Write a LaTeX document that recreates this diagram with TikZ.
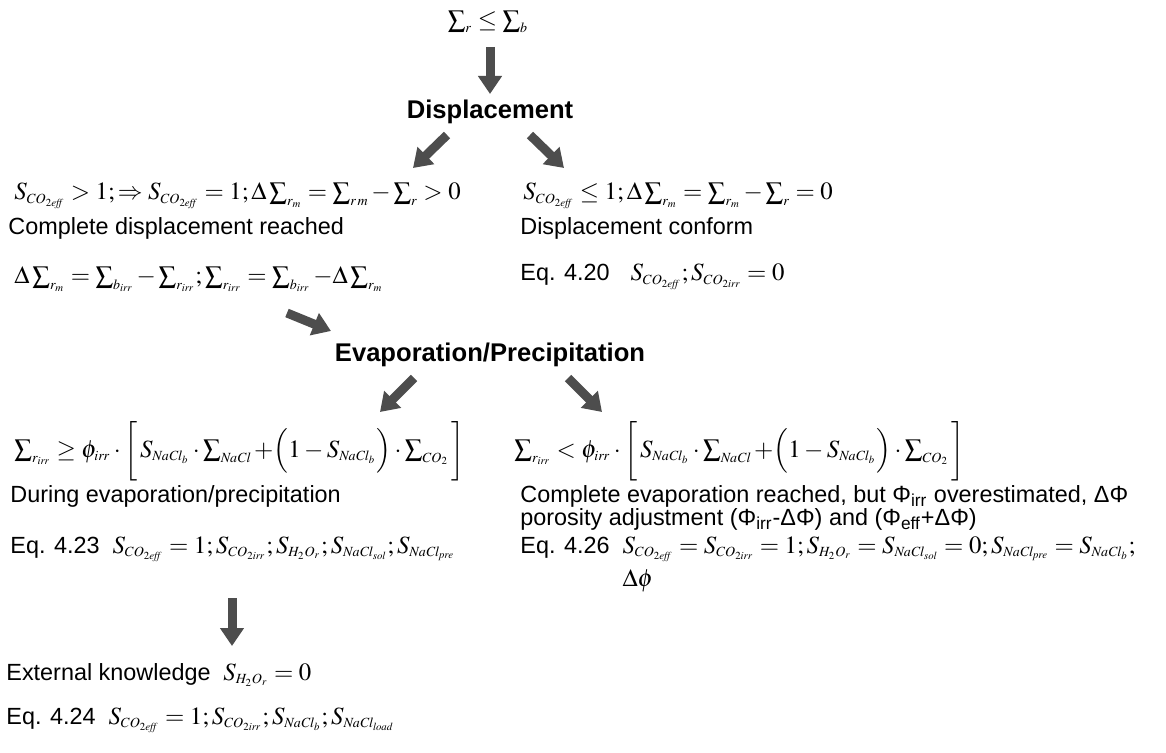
\documentclass[tikz,border=0pt]{standalone}
\usepackage{mathptmx}
\usepackage[no-math]{fontspec}
\setmainfont{Liberation Sans}
\usetikzlibrary{arrows.meta}
\DeclareMathSizes{12.4}{12.4}{7}{5.4}
\definecolor{arrowgray}{HTML}{4D4D4D}
\newcommand{\eff}{\mathit{eff}}
\newcommand{\irr}{\mathit{irr}}
\newcommand{\nacl}{\mathit{NaCl}}
\begin{document}
\begin{tikzpicture}[x=0.5pt,y=-0.5pt,
  txt/.style={inner sep=0pt,anchor=base west,font=\fontsize{11.7}{11.5}\selectfont},
  eqn/.style={inner sep=0pt,anchor=base west,font=\fontsize{12.4}{13}\selectfont},
  ttl/.style={inner sep=0pt,font=\fontsize{12.8}{14}\selectfont\bfseries},
  blk/.style={line width=4.5pt,draw=arrowgray,-{Triangle[width=11.5pt,length=9pt]}}]
\fill[white] (0,0) rectangle (1166,753);
\useasboundingbox (0,0) rectangle (1166,753);

% top
\node[eqn,anchor=center] (top) at (488,22) {$\sum_r \le \sum_b$};
\node[ttl] (disp) at (490,112) {Displacement};
\coordinate (a1s) at (490,47); \coordinate (a1e) at (490,94);
\draw[blk] (a1s) -- (a1e);

\coordinate (a2s) at (447,135); \coordinate (a2e) at (413,168);
\draw[blk] (a2s) -- (a2e);
\coordinate (a3s) at (530,135); \coordinate (a3e) at (564,168);
\draw[blk] (a3s) -- (a3e);

% left displacement branch
\node[eqn] (eqL1) at (14,200) {$S_{CO_{2\eff}} > 1; \Rightarrow S_{CO_{2\eff}} = 1; \Delta\sum_{r_m} = \sum_{r\,m} - \sum_r > 0$};
\node[txt] (tL1) at (8,235) {Complete displacement reached};
\node[eqn] (eqL2) at (14,284) {$\Delta\sum_{r_m} = \sum_{b_{\irr}} - \sum_{r_{\irr}}; \sum_{r_{\irr}} = \sum_{b_{\irr}} - \Delta\sum_{r_m}$};

% right displacement branch
\node[eqn] (eqR1) at (523,200) {$S_{CO_{2\eff}} \le 1; \Delta\sum_{r_m} = \sum_{r_m} - \sum_r = 0$};
\node[txt] (tR1) at (520,235) {Displacement conform};
\node[txt] (eq420) at (520,281) {Eq. 4.20};
\node[eqn,anchor=base west] (eqR2) at ([xshift=10pt]eq420.base east) {$S_{CO_{2\eff}}; S_{CO_{2\irr}} = 0$};

\coordinate (a4s) at (287,313); \coordinate (a4e) at (331,331);
\draw[blk] (a4s) -- (a4e);

\node[ttl] (evap) at (490,355) {Evaporation/Precipitation};

\coordinate (a5s) at (414,378); \coordinate (a5e) at (380,412);
\draw[blk] (a5s) -- (a5e);
\coordinate (a6s) at (568,378); \coordinate (a6e) at (602,412);
\draw[blk] (a6s) -- (a6e);

% left evaporation branch
\node[eqn] (eqL3) at (14,457) {$\sum_{r_{\irr}} \ge \phi_{\irr}\cdot\biggl[\,S_{\nacl_b}\cdot\sum_{\nacl} + \Bigl(1 - S_{\nacl_b}\Bigr)\cdot\sum_{CO_2}\,\biggr]$};
\node[txt] (tL3) at (10,502) {During evaporation/precipitation};
\node[txt] (eq423) at (10,553) {Eq. 4.23};
\node[eqn,anchor=base west] (eqL4) at ([xshift=6pt]eq423.base east) {$S_{CO_{2\eff}} = 1; S_{CO_{2\irr}}; S_{H_2O_r}; S_{\nacl_{\mathit{sol}}}; S_{\nacl_{\mathit{pre}}}$};

\coordinate (a7s) at (232,598); \coordinate (a7e) at (232,646);
\draw[blk] (a7s) -- (a7e);

\node[txt] (tL5) at (6,680) {External knowledge};
\node[eqn,anchor=base west] (eqL5) at ([xshift=6pt]tL5.base east) {$S_{H_2O_r} = 0$};
\node[txt] (eq424) at (6,724) {Eq. 4.24};
\node[eqn,anchor=base west] (eqL6) at ([xshift=6pt]eq424.base east) {$S_{CO_{2\eff}} = 1; S_{CO_{2\irr}}; S_{\nacl_b}; S_{\nacl_{\mathit{load}}}$};

% right evaporation branch
\node[eqn] (eqR3) at (514,457) {$\sum_{r_{\irr}} < \phi_{\irr}\cdot\biggl[\,S_{\nacl_b}\cdot\sum_{\nacl} + \Bigl(1 - S_{\nacl_b}\Bigr)\cdot\sum_{CO_2}\,\biggr]$};
\node[txt] (tR3a) at (520,502) {Complete evaporation reached, but Φ\textsubscript{irr} overestimated, ΔΦ};
\node[txt] (tR3b) at (520,525) {porosity adjustment (Φ\textsubscript{irr}-ΔΦ) and (Φ\textsubscript{eff}+ΔΦ)};
\node[txt] (eq426) at (520,553) {Eq. 4.26};
\node[eqn,anchor=base west] (eqR4) at ([xshift=6pt]eq426.base east) {$S_{CO_{2\eff}} = S_{CO_{2\irr}} = 1; S_{H_2O_r} = S_{\nacl_{\mathit{sol}}} = 0; S_{\nacl_{\mathit{pre}}} = S_{\nacl_b};$};
\node[eqn,anchor=base west] (eqR5) at ([yshift=-16.5pt]eqR4.base west) {$\Delta\phi$};
\end{tikzpicture}
\end{document}
